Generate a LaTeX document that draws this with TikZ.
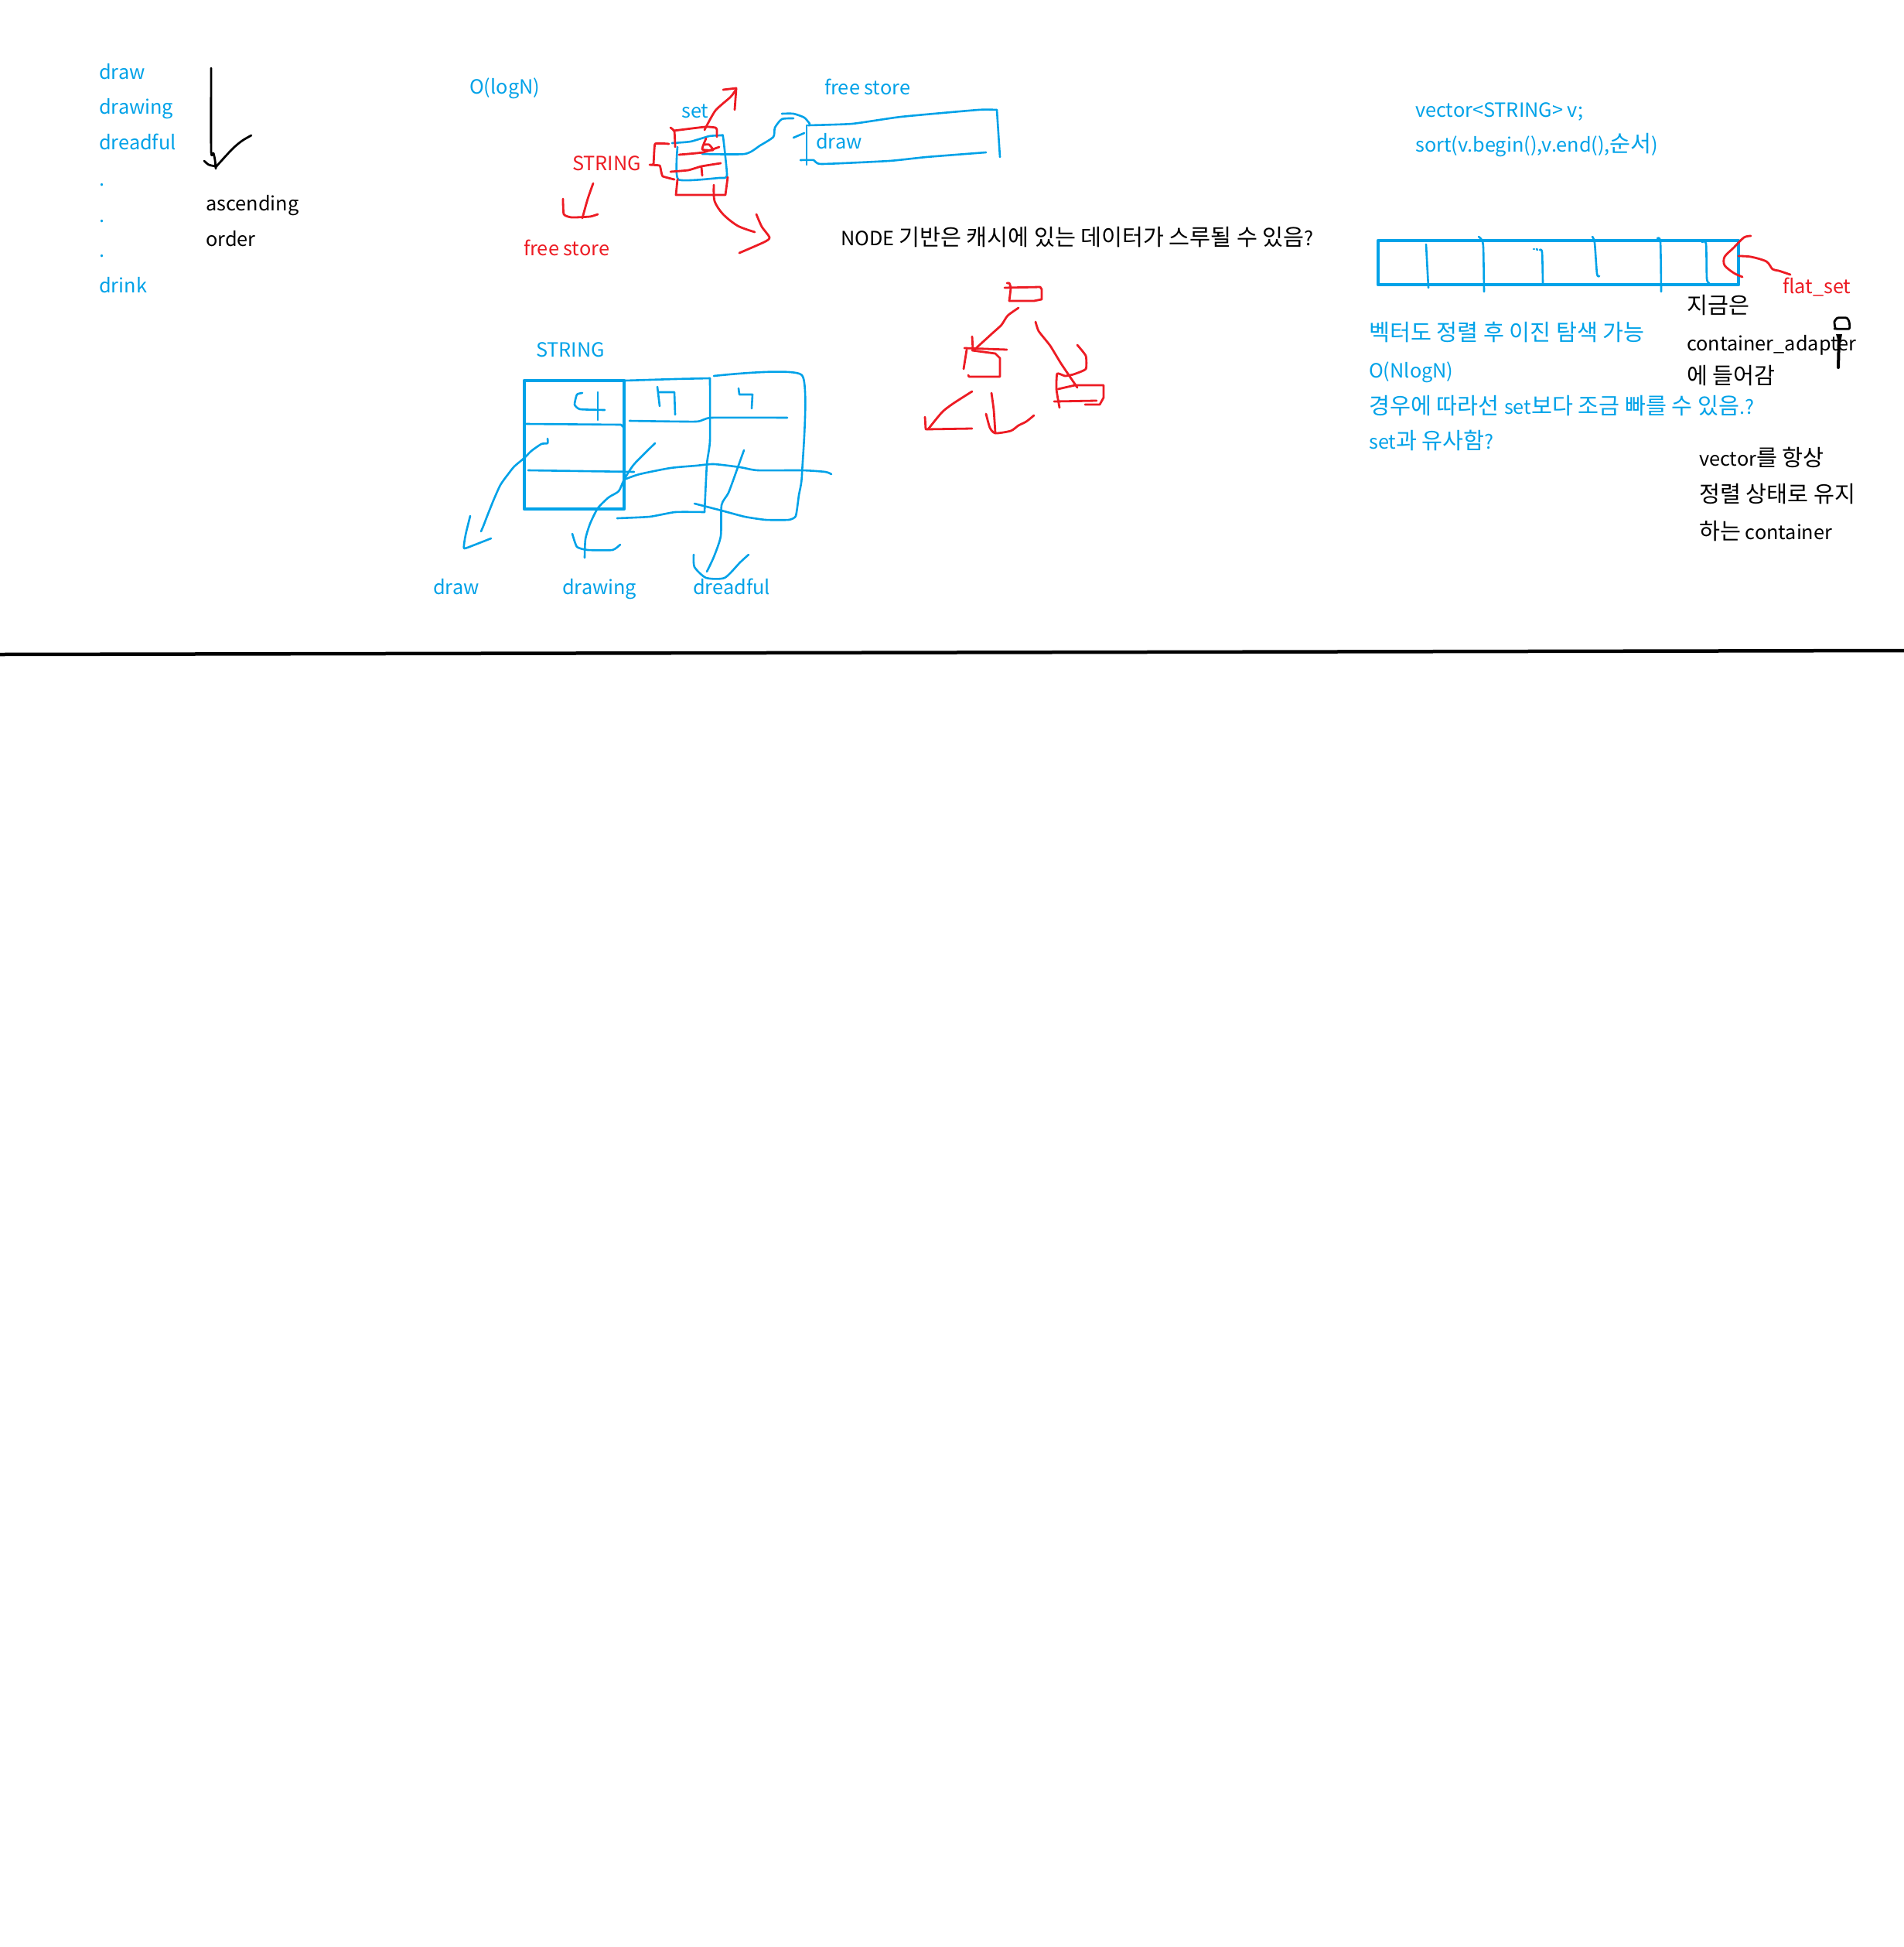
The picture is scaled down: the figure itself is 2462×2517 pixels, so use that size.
\documentclass[tikz,border=0pt]{standalone}
\usepackage{fontspec}
\setmainfont{Noto Sans CJK KR}
\definecolor{skyb}{RGB}{0,162,232}
\definecolor{pred}{RGB}{237,28,36}
\newcommand\myfs{\fontsize{25.3}{32}\selectfont}
\newcommand\kr[1]{{\fontsize{29.3}{32}\selectfont #1}}
\tikzset{
  bl/.style={draw=skyb, line width=2.6pt, line cap=round, line join=round},
  blt/.style={draw=skyb, line width=4.5pt, line cap=round, line join=round},
  rd/.style={draw=pred, line width=2.8pt, line cap=round, line join=round},
  bk/.style={draw=black, line width=2.8pt, line cap=round, line join=round},
  txt/.style={anchor=mid west, inner sep=0pt, font=\myfs, yshift=-8pt},
  tb/.style={txt, text=skyb},
  tr/.style={txt, text=pred},
  tk/.style={txt, text=black},
}
\begin{document}
\begin{tikzpicture}[x=1pt,y=-1pt]
\fill[white] (0,0) rectangle (2462,2517);
\useasboundingbox (0,0) rectangle (2462,2517);

% ---------- left list ----------
\node[tb] (l1) at (128,92) {draw};
\node[tb] (l2) at (128,137) {drawing};
\node[tb] (l3) at (128,183) {dreadful};
\node[tb] (l4) at (128,230) {.};
\node[tb] (l5) at (128,277) {.};
\node[tb] (l6) at (128,322) {.};
\node[tb] (l7) at (128,368) {drink};
\node[tk] (asc) at (266,262) {ascending};
\node[tk] (ord) at (266,308) {order};
\draw[bk] plot[smooth,tension=0.4] coordinates {(273,88) (273,195) (276,198) (278,207) (279,218)};
\draw[bk] plot[smooth] coordinates {(264,208) (270,213) (279,215)};
\draw[bk] plot[smooth] coordinates {(279,216) (300,193) (313,182) (325,175)};

% ---------- set diagram ----------
\node[tb] (ologn) at (607,111) {O(logN)};
\node[tb] (setl) at (881,142) {set};
\node[tr] (strr) at (740,210) {STRING};
\node[tr] (fsr) at (677,320) {free store};
\node[tb] (fsb) at (1066,112) {free store};
\node[tb] (drw) at (1055,182) {draw};
\node[tk] (nodet) at (1087,307) {NODE \kr{기반은 캐시에 있는 데이터가 스루될 수 있음}?};

% blue cell
\draw[bl] plot[smooth,tension=0.3] coordinates {(869,185) (893,183) (917,176) (933,175) (935,177) (940,227) (930,230) (877,232) (876,190)};
% blue connector
\draw[bl] plot[smooth,tension=0.4] coordinates {(908,199) (963,199) (983,188) (1000,177) (1002,165) (1011,154) (1026,153)};
\draw[bl] plot[smooth,tension=0.4] coordinates {(1011,147) (1026,147) (1040,152) (1047,160)};
% draw box
\draw[bl] (1043,162) -- (1043,213);
\draw[bl] plot[smooth,tension=0.3] coordinates {(1045,162) (1102,160) (1165,151) (1265,142) (1289,142)};
\draw[bl] (1289,142) -- (1293,203);
\draw[bl] plot[smooth,tension=0.3] coordinates {(1035,207) (1052,207) (1062,212) (1150,208) (1198,203) (1275,197)};
\draw[bl] (1026,178) -- (1040,172);

% red parts
\draw[rd] plot[smooth,tension=0.4] coordinates {(911,168) (925,143) (945,125) (952,115)};
\draw[rd] (935,116) -- (952,114) -- (950,142);
\draw[rd] plot[smooth,tension=0.3] coordinates {(867,165) (872,170) (873,190)};
\draw[rd] plot[smooth,tension=0.3] coordinates {(871,169) (912,164) (925,165) (927,168) (927,177)};
\draw[rd] plot[smooth,tension=0.3] coordinates {(878,200) (909,197) (930,190)};
\draw[rd] plot[smooth,tension=0.3] coordinates {(913,179) (908,193) (922,194) (917,187) (911,187)};
\draw[rd] plot[smooth,tension=0.3] coordinates {(867,222) (890,220) (907,215) (932,211)};
\draw[rd] (907,216) -- (908,227);
\draw[rd] plot[smooth,tension=0.2] coordinates {(865,186) (847,186) (845,212) (840,213) (853,214) (855,222) (857,228) (872,232)};
\draw[rd] (876,232) -- (874,252) -- (938,252) -- (941,229);
\draw[rd] plot[smooth,tension=0.5] coordinates {(923,239) (924,260) (935,277) (954,292) (976,300)};
\draw[rd] plot[smooth,tension=0.4] coordinates {(978,277) (985,293) (995,307) (988,313) (956,327)};
\draw[rd] plot[smooth,tension=0.4] coordinates {(767,237) (760,257) (753,282)};
\draw[rd] plot[smooth,tension=0.3] coordinates {(728,257) (729,277) (739,281) (763,280) (773,277)};

% ---------- red tree ----------
\draw[rd] plot[smooth,tension=0.2] coordinates {(1302,366) (1305,366) (1307,372) (1305,389)};
\draw[rd] (1299,372) -- (1345,371) -- (1347,374) -- (1347,387) -- (1337,389) -- (1305,389);
\draw[rd] plot[smooth,tension=0.4] coordinates {(1317,398) (1303,408) (1295,420) (1283,431) (1260,452)};
\draw[rd] (1247,450) -- (1302,452);
\draw[rd] (1257,435) -- (1258,452);
\draw[rd] (1250,452) -- (1246,477);
\draw[rd] (1257,453) -- (1287,457) -- (1293,463) -- (1293,487) -- (1253,487) -- (1252,485);
\draw[rd] plot[smooth,tension=0.3] coordinates {(1339,416) (1343,428) (1358,447) (1372,470) (1393,501)};
\draw[rd] plot[smooth,tension=0.3] coordinates {(1393,446) (1404,460) (1404,477) (1388,484) (1377,486) (1367,483) (1366,503) (1370,527)};
\draw[rd] (1368,503) -- (1390,498) -- (1427,498) -- (1427,514) -- (1422,523) -- (1403,523);
\draw[rd] (1363,519) -- (1418,518);
\draw[rd] plot[smooth,tension=0.4] coordinates {(1257,506) (1232,522) (1218,533) (1200,555)};
\draw[rd] (1196,539) -- (1197,555) -- (1257,554);
\draw[rd] plot[smooth,tension=0.3] coordinates {(1282,508) (1285,530) (1287,560)};
\draw[rd] plot[smooth,tension=0.4] coordinates {(1275,535) (1280,553) (1287,560) (1307,557) (1317,550) (1327,545) (1337,537)};

% ---------- STRING table ----------
\node[tb] (strb) at (693,451) {STRING};
\node[tb] (d1) at (560,758) {draw};
\node[tb] (d2) at (727,758) {drawing};
\node[tb] (d3) at (896,758) {dreadful};
\draw[blt] (678,492) rectangle (807,658);
\draw[bl] (680,548) -- (803,549) -- (807,553);
\draw[bl] plot[smooth,tension=0.3] coordinates {(753,508) (746,510) (743,523) (750,529) (782,530)};
\draw[bl] (773,507) -- (773,543);
\draw[bl] (683,608) -- (820,610);
\draw[bl] plot[smooth,tension=0.3] coordinates {(808,492) (873,490) (918,489)};
\draw[bl] plot[smooth,tension=0.3] coordinates {(918,489) (918,570) (914,600) (911,662)};
\draw[bl] plot[smooth,tension=0.3] coordinates {(798,670) (840,668) (873,662) (911,662)};
\draw[bl] plot[smooth,tension=0.3] coordinates {(814,544) (900,545) (920,540) (1018,540)};
\draw[bl] (850,500) -- (853,525);
\draw[bl] (852,507) -- (872,507) -- (873,536);
\draw[bl] plot[smooth,tension=0.3] coordinates {(923,486) (1037,485) (1037,613) (1033,640) (1029,667) (1020,672) (990,672) (963,668) (933,660) (898,651)};
\draw[bl] (955,502) -- (956,510) -- (973,510) -- (972,528);
\draw[bl] plot[smooth,tension=0.4] coordinates {(807,620) (827,613) (867,605) (900,602) (923,600) (957,604) (980,608) (1037,608) (1067,610) (1075,613)};
\draw[bl] plot[smooth,tension=0.4] coordinates {(847,573) (820,600) (807,620) (800,635) (787,643) (773,657) (763,677) (757,697) (756,721)};
\draw[bl] plot[smooth,tension=0.3] coordinates {(740,690) (746,707) (760,711) (792,711) (802,704)};
\draw[bl] plot[smooth,tension=0.4] coordinates {(962,582) (953,607) (942,637) (933,653) (932,693) (923,720) (914,739)};
\draw[bl] plot[smooth,tension=0.4] coordinates {(897,717) (898,733) (913,747) (937,747) (957,727) (968,717)};
\draw[bl] plot[smooth,tension=0.4] coordinates {(708,567) (708,573) (700,574) (687,583) (678,592) (665,603) (657,613) (647,627) (638,647) (630,667) (625,680) (622,687)};
\draw[bl] plot[smooth,tension=0.3] coordinates {(608,667) (603,687) (601,697) (600,709) (612,705) (635,696)};

% ---------- vector / flat_set ----------
\node[tb] (vec) at (1830,141) {vector<STRING> v;};
\node[tb] (srt) at (1830,186) {sort(v.begin(),v.end(),\kr{순서})};
\draw[blt] (1782,311) rectangle (2248,368);
\draw[bl] (1844,316) -- (1847,372);
\draw[bl] plot[smooth,tension=0.4] coordinates {(1912,306) (1916,310) (1918,320) (1919,377)};
\draw[bl] (1983,322) -- (1984,322);
\draw[bl] (1987,322) -- (1988,323);
\draw[bl] plot[smooth,tension=0.4] coordinates {(1991,323) (1994,326) (1995,366)};
\draw[bl] plot[smooth,tension=0.4] coordinates {(2059,306) (2062,314) (2065,354) (2068,357)};
\draw[bl] plot[smooth,tension=0.4] coordinates {(2143,308) (2147,313) (2148,377)};
\draw[bl] plot[smooth,tension=0.4] coordinates {(2201,313) (2206,315) (2207,360) (2210,366)};
\draw[rd] plot[smooth,tension=0.5] coordinates {(2264,305) (2255,307) (2242,320) (2230,332) (2230,343) (2242,353) (2253,358)};
\draw[rd] plot[smooth,tension=0.5] coordinates {(2248,331) (2264,332) (2284,338) (2292,348) (2300,350) (2315,355)};
\node[tr] (flat) at (2305,369) {flat\_set};
\node[tk] (k1) at (2181,395) {\kr{지금은}};
\node[tk] (k2) at (2181,443) {container\_adapter};
\node[tk] (k3) at (2181,486) {\kr{에 들어감}};
\draw[bk] plot[smooth,tension=0.3] coordinates {(2373,424) (2372,416) (2376,411) (2388,411) (2391,416) (2391,425) (2372,425)};
\fill[black] (2374,432) -- (2382,432) -- (2379,448) -- cycle;
\draw[bk, line width=4pt] (2378,434) -- (2377,475);
\node[tb] (b1) at (1770,430) {\kr{벡터도 정렬 후 이진 탐색 가능}};
\node[tb] (b2) at (1770,478) {O(NlogN)};
\node[tb] (b3) at (1770,525) {\kr{경우에 따라선 }set\kr{보다 조금 빠를 수 있음}.?};
\node[tb] (b4) at (1770,570) {set\kr{과 유사함}?};
\node[tk] (c1) at (2197,592) {vector\kr{를 항상}};
\node[tk] (c2) at (2197,639) {\kr{정렬 상태로 유지}};
\node[tk] (c3) at (2197,687) {\kr{하는} container};

% ---------- divider ----------
\draw[black, line width=4.5pt] (0,846) -- (2462,841);
\end{tikzpicture}
\end{document}
